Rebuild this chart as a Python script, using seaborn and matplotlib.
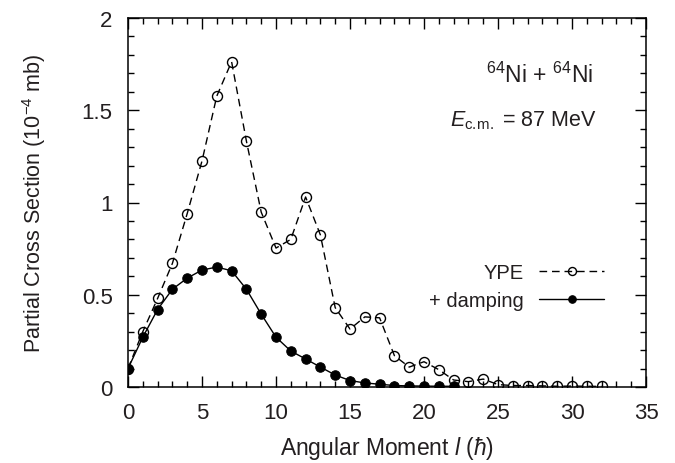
import numpy as np
import pandas as pd
import matplotlib
matplotlib.use("Agg")
import matplotlib.pyplot as plt
import seaborn as sns
from matplotlib.ticker import MultipleLocator, FixedLocator, FixedFormatter

# ---- data ----
l_ype = list(range(0, 33))
ype = [0.10, 0.30, 0.48, 0.67, 0.94, 1.225, 1.577, 1.763, 1.333, 0.948,
       0.753, 0.80, 1.03, 0.824, 0.43, 0.314, 0.38, 0.375, 0.17, 0.108,
       0.137, 0.094, 0.038, 0.029, 0.043, 0.013, 0.008, 0.008, 0.006,
       0.004, 0.005, 0.004, 0.003]

l_damp = list(range(0, 23))
damp = [0.10, 0.27, 0.42, 0.53, 0.59, 0.634, 0.65, 0.63, 0.53, 0.395,
        0.27, 0.195, 0.152, 0.108, 0.065, 0.035, 0.022, 0.015, 0.008,
        0.006, 0.005, 0.004, 0.004]

x_ticks = [0, 5, 10, 15, 20, 25, 30, 35]
y_ticks = [0, 0.5, 1, 1.5, 2]
y_labels = ["0", "0.5", "1", "1.5", "2"]

label_ype = "YPE"
label_damp = "+ damping"

TXT = "#231f20"

# ---- style ----
sns.set_theme(style="ticks")
plt.rcParams["font.family"] = ["Liberation Sans", "DejaVu Sans"]
plt.rcParams["mathtext.fontset"] = "custom"
plt.rcParams["mathtext.rm"] = "Liberation Sans"
plt.rcParams["mathtext.it"] = "Liberation Sans:italic"
plt.rcParams["mathtext.bf"] = "Liberation Sans:bold"

fig = plt.figure(figsize=(6.75, 4.64), dpi=100)
ax = fig.add_axes([128 / 675, 1 - 388 / 464, (646 - 128) / 675, (388 - 19) / 464])

df_ype = pd.DataFrame({"l": l_ype, "v": ype})
df_damp = pd.DataFrame({"l": l_damp, "v": damp})

sns.lineplot(data=df_ype, x="l", y="v", ax=ax, color="black", lw=1.0,
             linestyle=(0, (5.5, 3.5)), marker="o", markersize=7.2,
             markerfacecolor="none", markeredgecolor="black",
             markeredgewidth=1.0, label=label_ype)
sns.lineplot(data=df_damp, x="l", y="v", ax=ax, color="black", lw=1.0,
             linestyle="-", marker="o", markersize=6.8,
             markerfacecolor="black", markeredgecolor="black",
             label=label_damp)

ax.set_xlim(0, 35)
ax.set_ylim(0, 2)
ax.xaxis.set_major_locator(FixedLocator(x_ticks))
ax.xaxis.set_minor_locator(MultipleLocator(1))
ax.yaxis.set_major_locator(FixedLocator(y_ticks))
ax.yaxis.set_major_formatter(FixedFormatter(y_labels))
ax.yaxis.set_minor_locator(MultipleLocator(0.1))

ax.tick_params(which="both", direction="in", top=True, right=True,
               color="black", width=1.0, labelsize=16, labelcolor=TXT)
ax.tick_params(which="major", length=8)
ax.tick_params(which="minor", length=4)
ax.tick_params(axis="x", which="major", pad=11)
ax.tick_params(axis="y", which="major", pad=11)
for s in ax.spines.values():
    s.set_linewidth(1.1)
    s.set_color("black")
    s.set_visible(True)

ax.set_xlabel(r"Angular Moment $\mathit{l}$ ($\hbar$)", fontsize=16.5, color=TXT, labelpad=8)
ax.set_ylabel(r"Partial Cross Section (10$^{-4}$ mb)", fontsize=15.5, color=TXT, labelpad=24)

ax.text(593 / 675, 1 - 75 / 464, r"$^{64}$Ni + $^{64}$Ni", transform=fig.transFigure,
        ha="right", va="center", fontsize=16.5, color=TXT)
ax.text(597 / 675, 1 - 121 / 464, r"$E_{\mathrm{c.\!m.}}$ = 87 MeV", transform=fig.transFigure,
        ha="right", va="center", fontsize=15.5, color=TXT)

leg = ax.legend(loc="upper right", bbox_to_anchor=(618 / 675, 1 - 250 / 464),
                bbox_transform=fig.transFigure, frameon=False, markerfirst=False,
                handlelength=3.2, handletextpad=0.8, labelspacing=0.45,
                fontsize=14.5, markerscale=0.8, borderpad=0.2)
for t in leg.get_texts():
    t.set_color(TXT)

fig.savefig("out.png", dpi=100)
